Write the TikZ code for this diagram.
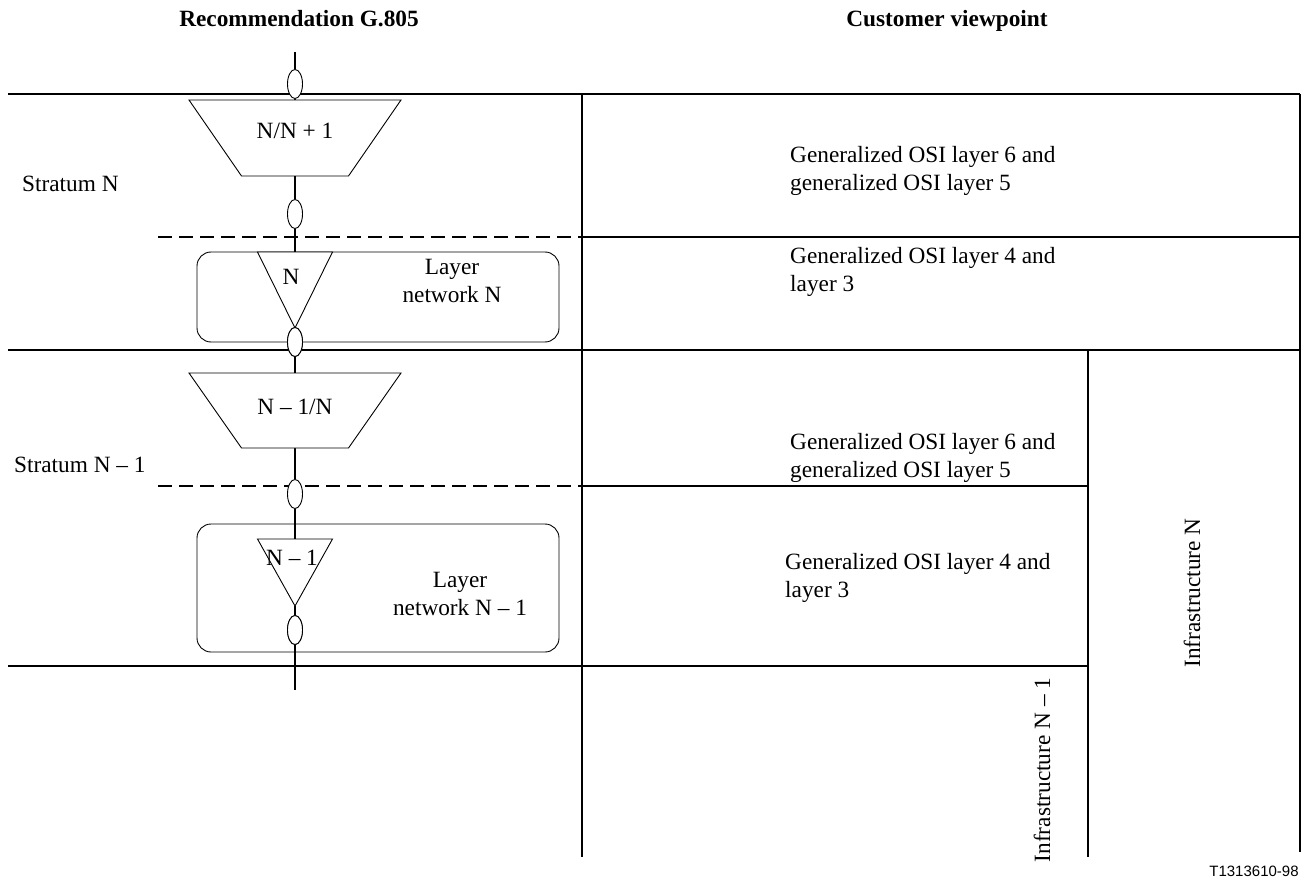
\documentclass[tikz,border=0pt]{standalone}
\usepackage{fontspec}
\setmainfont{Liberation Serif}
\newfontfamily\labelsans{Liberation Sans}
\usetikzlibrary{calc,shapes.geometric}

\begin{document}
\begin{tikzpicture}[x=1pt,y=-1pt,
  frame/.style={line width=1.6pt},
  dashline/.style={line width=1.6pt, dash pattern=on 14pt off 7pt},
  trunk/.style={line width=1.6pt},
  outline/.style={line width=0.9pt},
  port/.style={ellipse, draw, line width=0.9pt, fill=white, inner sep=0pt,
               minimum width=15pt, minimum height=29pt},
  bbox/.style={inner sep=0pt, outer sep=0pt},
  netbox/.style={draw, line width=0.9pt, rounded corners=14pt},
  txt/.style={font=\fontsize{23.3}{28.5}\selectfont, inner sep=0pt},
  head/.style={font=\fontsize{23.3}{28}\selectfont\bfseries, inner sep=0pt, anchor=base},
  block/.style={txt, align=left, anchor=north west},
  netlabel/.style={txt, align=center}
]
\useasboundingbox (0,0) rectangle (1305,877);

% headings
\node[head] (hleft) at (299,27) {Recommendation G.805};
\node[head] (hright) at (947,27) {Customer viewpoint};

% table frame
\draw[frame] (8,94) -- (1300,94);
\draw[frame] (582,94) -- (582,857);
\draw[frame] (1300,94) -- (1300,852);
\draw[frame] (582,237) -- (1300,237);
\draw[dashline] (158,237) -- (582,237);
\draw[frame] (8,350) -- (1300,350);
\draw[frame] (1088,350) -- (1088,857);
\draw[dashline] (158,486) -- (582,486);
\draw[frame] (582,486) -- (1088,486);
\draw[frame] (8,666) -- (1088,666);

% layer network boxes
\draw[netbox] (197,252) rectangle (559,342);
\draw[netbox] (197,524) rectangle (559,652);

% adaptation trapezia and trail termination triangles (bounding boxes)
\node[bbox, minimum width=212pt, minimum height=76pt] (tz1) at (295,138) {};
\node[bbox, minimum width=212pt, minimum height=75pt] (tz2) at (295,410.5) {};
\node[bbox, minimum width=75pt, minimum height=76pt] (tr1) at (295,290) {};
\node[bbox, minimum width=75pt, minimum height=67pt] (tr2) at (295,572.5) {};

% connection points
\node[port] (o1) at (295,84) {};
\node[port] (o2) at (295,214) {};
\node[port] (o3) at (295,342) {};
\node[port] (o4) at (295,494) {};
\node[port] (o5) at (295,630) {};
\coordinate (top) at (295,52);
\coordinate (bot) at (295,690);

% trunk connections
\draw[trunk] (top) -- (o1);
\draw[trunk] (o1) -- (tz1.north);
\draw[trunk] (tz1.south) -- (o2);
\draw[trunk] (o2) -- (tr1.north);
\draw[trunk] (o3) -- (tz2.north);
\draw[trunk] (tz2.south) -- (o4);
\draw[trunk] (o4) -- (tr2.north);
\draw[trunk] (tr2.south) -- (o5);
\draw[trunk] (o5) -- (bot);

% shape outlines
\draw[outline, fill=white] (tz1.north west) -- (tz1.north east)
  -- ($(tz1.south east)+(-52.5,0)$) -- ($(tz1.south west)+(52.5,0)$) -- cycle;
\draw[outline, fill=white] (tz2.north west) -- (tz2.north east)
  -- ($(tz2.south east)+(-52.5,0)$) -- ($(tz2.south west)+(52.5,0)$) -- cycle;
\draw[outline, fill=white] (tr1.north west) -- (tr1.north east) -- (tr1.south) -- cycle;
\draw[outline, fill=white] (tr2.north west) -- (tr2.north east) -- (tr2.south) -- cycle;
\node[port] at (o3) {};
\node[port] at (o5) {};

% shape labels
\node[txt] (ltz1) at (295,131) {N/N + 1};
\node[txt] (ltz2) at (295,406.5) {N -- 1/N};
\node[txt] (ltr1) at (291,277) {N};
\node[txt] (ltr2) at (292,558) {N -- 1};
\node[netlabel] (ln1) at (452,281) {Layer\\network N};
\node[netlabel] (ln2) at (460,594) {Layer\\network N -- 1};

% stratum labels
\node[txt, anchor=base west] (s1) at (22,192) {Stratum N};
\node[txt, anchor=base west] (s2) at (14,472) {Stratum N -- 1};

% customer viewpoint blocks
\node[block] (c1) at (790,146) {Generalized OSI layer 6 and\\generalized OSI layer 5};
\node[block] (c2) at (790,247) {Generalized OSI layer 4 and\\layer 3};
\node[block] (c3) at (790,433) {Generalized OSI layer 6 and\\generalized OSI layer 5};
\node[block] (c4) at (785,553) {Generalized OSI layer 4 and\\layer 3};

% infrastructure labels
\node[txt, rotate=90] (inf1) at (1192,593) {Infrastructure N};
\node[txt, rotate=90] (inf2) at (1042,770) {Infrastructure N -- 1};

% figure number
\node[inner sep=0pt, font=\labelsans\fontsize{15}{18}\selectfont] (fig) at (1254,871) {T1313610-98};
\end{tikzpicture}
\end{document}
